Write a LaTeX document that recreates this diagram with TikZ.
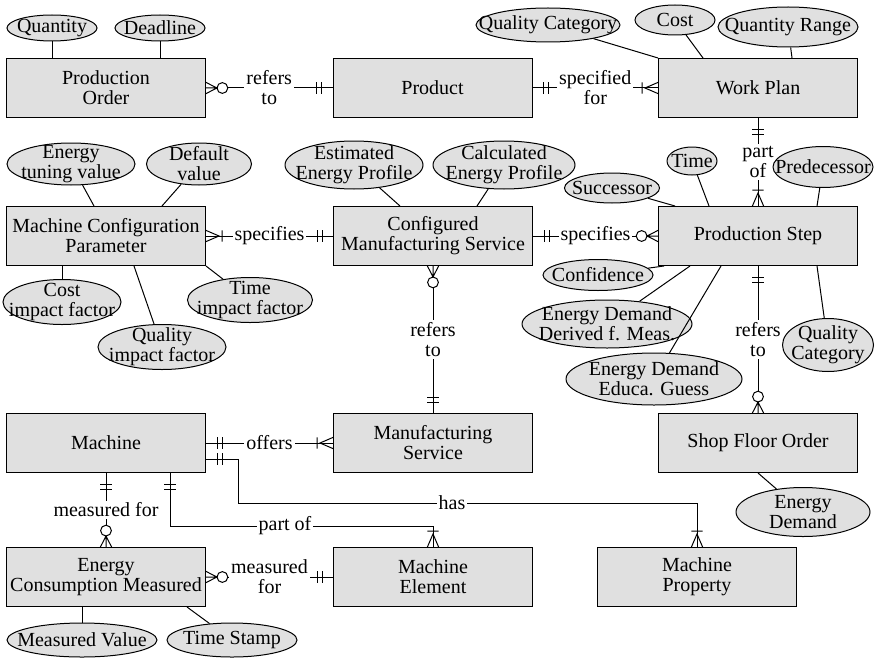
\documentclass[tikz,border=0pt]{standalone}
\usepackage{fontspec}
\setmainfont{Liberation Serif}
\usetikzlibrary{shapes.geometric,calc}

\definecolor{erfill}{gray}{0.88}

% crow's foot ends
\pgfdeclarearrow{
  name = erOne,
  setup code = {
    \pgfarrowssettipend{0pt}
    \pgfarrowssetlineend{0pt}
    \pgfarrowssetbackend{-8.5pt}
    \pgfarrowsupperhullpoint{0pt}{2.8pt}
    \pgfarrowsupperhullpoint{-8.5pt}{2.8pt}
  },
  drawing code = {
    \pgfpathmoveto{\pgfqpoint{-5.5pt}{-2.8pt}}
    \pgfpathlineto{\pgfqpoint{-5.5pt}{2.8pt}}
    \pgfpathmoveto{\pgfqpoint{-8pt}{-2.8pt}}
    \pgfpathlineto{\pgfqpoint{-8pt}{2.8pt}}
    \pgfusepathqstroke
  }
}
\pgfdeclarearrow{
  name = erOneMany,
  setup code = {
    \pgfarrowssettipend{0pt}
    \pgfarrowssetlineend{0pt}
    \pgfarrowssetbackend{-8.5pt}
    \pgfarrowsupperhullpoint{0pt}{2.8pt}
    \pgfarrowsupperhullpoint{-8.5pt}{2.8pt}
  },
  drawing code = {
    \pgfpathmoveto{\pgfqpoint{0pt}{2.8pt}}
    \pgfpathlineto{\pgfqpoint{-6.5pt}{0pt}}
    \pgfpathlineto{\pgfqpoint{0pt}{-2.8pt}}
    \pgfpathmoveto{\pgfqpoint{-8pt}{-2.8pt}}
    \pgfpathlineto{\pgfqpoint{-8pt}{2.8pt}}
    \pgfusepathqstroke
  }
}
\pgfdeclarearrow{
  name = erZeroMany,
  setup code = {
    \pgfarrowssettipend{0pt}
    \pgfarrowssetlineend{-10.9pt}
    \pgfarrowssetbackend{-10.9pt}
    \pgfarrowsupperhullpoint{0pt}{2.8pt}
    \pgfarrowsupperhullpoint{-10.9pt}{2.8pt}
  },
  drawing code = {
    \pgfpathmoveto{\pgfqpoint{0pt}{2.8pt}}
    \pgfpathlineto{\pgfqpoint{-5.5pt}{0pt}}
    \pgfpathlineto{\pgfqpoint{0pt}{-2.8pt}}
    \pgfpathmoveto{\pgfqpoint{-5.5pt}{0pt}}
    \pgfpathlineto{\pgfqpoint{0pt}{0pt}}
    \pgfpathcircle{\pgfqpoint{-8.2pt}{0pt}}{2.7pt}
    \pgfusepathqstroke
  }
}

\tikzset{
  entity/.style={draw, fill=erfill, minimum width=99.5pt, minimum height=29.5pt, align=center, inner sep=1pt},
  attr/.style 2 args={ellipse, draw, fill=erfill, inner sep=0pt, minimum width=0.5pt*#1, minimum height=0.5pt*#2},
  attrtext/.style={align=center, inner sep=0pt},
  rel/.style={fill=white, inner sep=1pt, align=center}
}
\newcommand{\erattr}[5]{\node[attr={#3}{#4}, label={[attrtext]center:#5}] (#1) at (#2) {};}

\begin{document}
\begin{tikzpicture}[x=0.5pt, y=-0.5pt, font=\fontsize{10}{10}\selectfont, line width=0.5pt]
  \useasboundingbox (0,0) rectangle (876,658);

  % entities
  \node[entity] (po) at (106,88) {Production\\Order};
  \node[entity] (prod) at (432.5,88) {Product};
  \node[entity] (wp) at (758,88) {Work Plan};
  \node[entity] (mcp) at (106,236) {Machine Configuration\\Parameter};
  \node[entity] (cms) at (433,236) {Configured\\Manufacturing Service};
  \node[entity] (ps) at (758,236) {Production Step};
  \node[entity] (mach) at (106,443) {Machine};
  \node[entity] (ms) at (433,443) {Manufacturing\\Service};
  \node[entity] (sfo) at (758,443) {Shop Floor Order};
  \node[entity] (ecm) at (106,577) {Energy\\Consumption Measured};
  \node[entity] (me) at (433,577) {Machine\\Element};
  \node[entity] (mp) at (697,577) {Machine\\Property};

  % relationships
  \draw[erZeroMany-erOne] (po) -- node[rel] (rPoProd) {refers\\to} (prod);
  \draw[erOne-erOneMany] (prod) -- node[rel] (rProdWp) {specified\\for} (wp);
  \draw[erOne-erOneMany] (wp) -- node[rel] (rWpPs) {part\\of} (ps);
  \draw[erOneMany-erOne] (mcp) -- node[rel] (rMcpCms) {specifies} (cms);
  \draw[erOne-erZeroMany] (cms) -- node[rel] (rCmsPs) {specifies} (ps);
  \draw[erZeroMany-erOne] (cms) -- node[rel] (rCmsMs) {refers\\to} (ms);
  \draw[erOne-erZeroMany] (ps) -- node[rel] (rPsSfo) {refers\\to} (sfo);
  \draw[erOne-erOneMany] (mach) -- node[rel] (rMachMs) {offers} (ms);
  \draw[erOne-erZeroMany] (mach) -- node[rel] (rMachEcm) {measured for} (ecm);
  \draw[erZeroMany-erOne] (ecm) -- node[rel] (rEcmMe) {measured\\for} (me);

  \coordinate (hasA) at (238,459);
  \coordinate (hasB) at (238,503);
  \draw[erOne-erOneMany] (mach.east |- hasA) -- (hasA) -- (hasB) -- (hasB -| mp) -- (mp);
  \node[rel] (rHas) at (452,503) {has};

  \coordinate (partA) at (170,526);
  \draw[erOne-erOneMany] (mach.south -| partA) -- (partA) -- (partA -| me) -- (me);
  \node[rel] (rPart) at (285,526) {part of};

  % attributes
  \erattr{qty}{52,28}{90}{26}{Quantity}
  \erattr{dl}{160,28}{90}{26}{Deadline}
  \erattr{qcatwp}{548,25}{144}{34}{Quality Category}
  \erattr{cost}{675,20}{80}{30}{Cost}
  \erattr{qrange}{788,27}{140}{40}{Quantity Range}
  \erattr{etv}{71,164}{128}{42}{Energy\\tuning value}
  \erattr{dv}{199,164}{105}{42}{Default\\value}
  \erattr{cif}{62,302}{118}{45}{Cost\\impact factor}
  \erattr{qif}{162,347}{128}{45}{Quality\\impact factor}
  \erattr{tif}{250,300}{125}{45}{Time\\impact factor}
  \erattr{eep}{354,165}{138}{48}{Estimated\\Energy Profile}
  \erattr{cep}{504,165}{142}{48}{Calculated\\Energy Profile}
  \erattr{time}{692,161}{50}{28}{Time}
  \erattr{pred}{823,167}{100}{41}{Predecessor}
  \erattr{succ}{612,188}{95}{30}{Successor}
  \erattr{conf}{598,275}{110}{31}{Confidence}
  \erattr{edd}{607,324}{170}{48}{Energy Demand\\Derived f. Meas.}
  \erattr{edg}{654,379}{176}{52}{Energy Demand\\Educa. Guess}
  \erattr{qcatps}{828,345}{91}{53}{Quality\\Category}
  \erattr{ed}{803,512}{134}{49}{Energy\\Demand}
  \erattr{mv}{82,640}{150}{34}{Measured Value}
  \erattr{ts}{232,640}{130}{34}{Time Stamp}

  \draw (qty) -- (qty |- po.north);
  \draw (dl) -- (dl |- po.north);
  \draw (qcatwp) -- (wp.north west);
  \draw (cost) -- ($(wp.north west)+(45,0)$);
  \draw (qrange) -- ($(wp.north west)+(134,0)$);
  \draw (etv) -- ($(mcp.north west)+(88,0)$);
  \draw (dv) -- ($(mcp.north west)+(156,0)$);
  \draw (cif) -- (cif |- mcp.south);
  \draw (qif) -- ($(mcp.south west)+(128,0)$);
  \draw (tif) -- (mcp.south east);
  \draw (eep) -- ($(cms.north west)+(67,0)$);
  \draw (cep) -- ($(cms.north west)+(144,0)$);
  \draw (time) -- ($(ps.north west)+(51,0)$);
  \draw (pred) -- ($(ps.north west)+(159,0)$);
  \draw (succ) -- ($(ps.north west)+(17,0)$);
  \draw (conf) -- ($(ps.south west)+(6,0)$);
  \draw (edd) -- ($(ps.south west)+(32,0)$);
  \draw (edg) -- ($(ps.south west)+(63,0)$);
  \draw (qcatps) -- ($(ps.south west)+(159,0)$);
  \draw (ed) -- (sfo.south);
  \draw (mv) -- (mv |- ecm.south);
  \draw (ts) -- ($(ecm.south west)+(181,0)$);
\end{tikzpicture}
\end{document}
